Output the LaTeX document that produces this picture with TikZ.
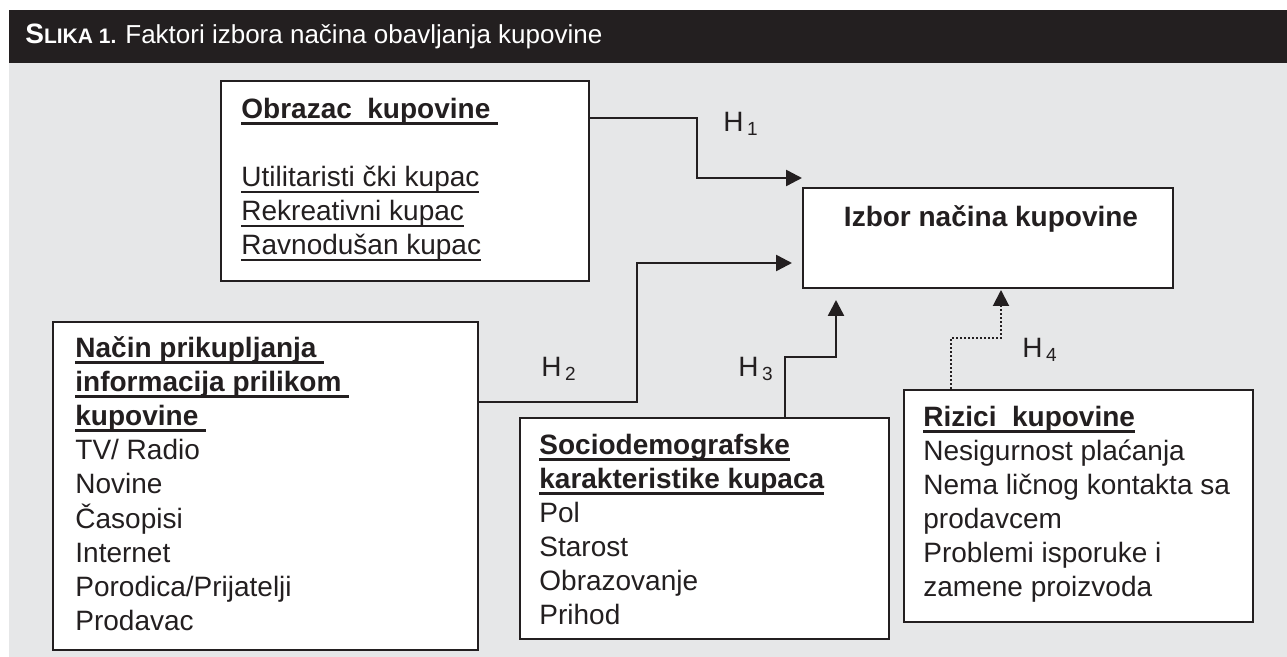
\documentclass[tikz,border=0pt]{standalone}
\usepackage{fontspec}
\setmainfont{Liberation Sans}
\usetikzlibrary{arrows.meta,calc}
\definecolor{ink}{HTML}{231F20}
\definecolor{panel}{HTML}{E6E7E8}
\newcommand{\ulb}[1]{\setbox0\hbox{#1}\rlap{\rule[-3pt]{\wd0}{1.4pt}}\box0}
\newcommand{\ulr}[1]{\setbox0\hbox{#1}\rlap{\rule[-2.8pt]{\wd0}{0.9pt}}\box0}
\newcommand{\Hlab}[1]{H\kern1.8pt\raisebox{-2pt}{\fontsize{9.5}{10}\selectfont #1}}
\begin{document}
\begin{tikzpicture}[x=0.5pt,y=-0.5pt,
  box/.style={draw=ink, line width=1pt, fill=white, inner sep=0pt, anchor=north west},
  txt/.style={anchor=base west, inner sep=0pt, text=ink, font=\fontsize{14}{17}\selectfont},
  conn/.style={draw=ink, line width=1.25pt, -{Triangle[length=8pt,width=8pt]}},
  dotconn/.style={conn, line width=1pt, dash pattern=on 1pt off 1pt}]
\useasboundingbox (0,0) rectangle (1287,657);
\fill[white] (0,0) rectangle (1287,657);
\fill[panel] (9,63) rectangle (1287,657);
\fill[ink] (9,10) rectangle (1287,63);
\node[anchor=base west, inner sep=0pt, text=white] (title) at (25,44)
  {\bfseries\fontsize{14}{15}\selectfont S\fontsize{10.5}{12}\selectfont LIKA 1.};
\node[anchor=base west, inner sep=0pt, text=white] (caption) at (125,44)
  {\fontsize{13}{15}\selectfont Faktori izbora načina obavljanja kupovine};

% boxes
\node[box, minimum width=184pt, minimum height=100pt] (obr) at (220,80) {};
\node[box, minimum width=185pt, minimum height=50pt] (izb) at (802,187) {};
\node[box, minimum width=212.5pt, minimum height=164pt] (nac) at (52,321) {};
\node[box, minimum width=184.5pt, minimum height=110.5pt] (soc) at (519,417) {};
\node[box, minimum width=174.5pt, minimum height=116pt] (riz) at (903,389) {};

% texts
\node[txt] (obrt) at (241,119) {\begin{tabular}[t]{@{}l@{}}
  \bfseries\ulb{Obrazac\ \ kupovine\ }\\
  \\
  \ulr{Utilitaristi čki kupac}\\
  \ulr{Rekreativni kupac}\\
  \ulr{Ravnodušan kupac}
\end{tabular}};
\node[txt, anchor=base] (izbt) at (991,227) {\bfseries Izbor načina kupovine};
\node[txt] (nact) at (75,358) {\begin{tabular}[t]{@{}l@{}}
  \bfseries\ulb{Način prikupljanja\ }\\
  \bfseries\ulb{informacija prilikom\ }\\
  \bfseries\ulb{kupovine\ }\\
  TV/ Radio\\
  Novine\\
  Časopisi\\
  Internet\\
  Porodica/Prijatelji\\
  Prodavac
\end{tabular}};
\node[txt] (soct) at (539,455) {\begin{tabular}[t]{@{}l@{}}
  \bfseries\ulb{Sociodemografske}\\
  \bfseries\ulb{karakteristike kupaca}\\
  Pol\\
  Starost\\
  Obrazovanje\\
  Prihod
\end{tabular}};
\node[txt] (rizt) at (923,427) {\begin{tabular}[t]{@{}l@{}}
  \bfseries\ulb{Rizici\ \ kupovine}\\
  Nesigurnost plaćanja\\
  Nema ličnog kontakta sa\\
  prodavcem\\
  Problemi isporuke i\\
  zamene proizvoda
\end{tabular}};

% connectors
\draw[conn] ($(obr.north east)+(0,38)$) -- ++(107,0) |- ($(izb.north west)+(0,-9)$);
\draw[conn] ($(nac.north east)+(0,81)$) -- ++(158,0) |- ($(izb.west)+(-10,25)$);
\draw[conn] ($(soc.north west)+(266,0)$) -- ++(0,-60) -| ($(izb.south west)+(34,11)$);
\draw[dotconn] ($(riz.north west)+(48,0)$) -- ++(0,-51) -| ($(izb.south west)+(199,1)$);

% labels
\node[txt] (h1) at (723,132) {\Hlab{1}};
\node[txt] (h2) at (541,377) {\Hlab{2}};
\node[txt] (h3) at (738,377) {\Hlab{3}};
\node[txt] (h4) at (1022,358) {\Hlab{4}};
\end{tikzpicture}
\end{document}
